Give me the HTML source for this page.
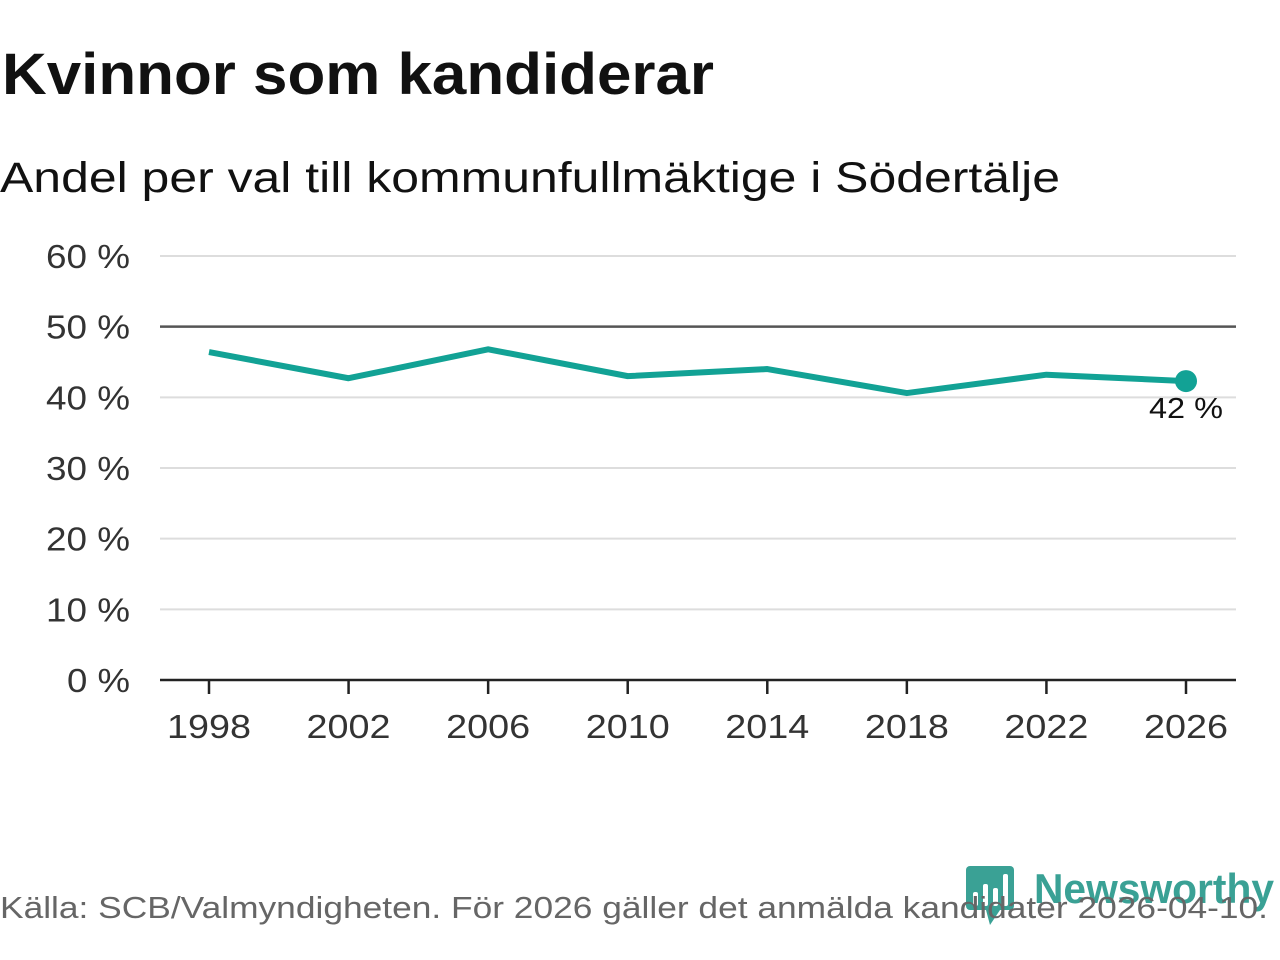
<!DOCTYPE html>
<html><head><meta charset="utf-8"><style>
body{margin:0;background:#fff;width:1280px;height:960px;overflow:hidden;font-family:"Liberation Sans","DejaVu Sans",sans-serif}
</style></head><body>
<svg width="1280" height="960" style="position:absolute;left:0;top:0">
<text x="2" y="94" font-size="58" font-weight="bold" fill="#111" textLength="712" lengthAdjust="spacingAndGlyphs">Kvinnor som kandiderar</text>
<text x="0" y="192" font-size="43" fill="#111" textLength="1060" lengthAdjust="spacingAndGlyphs">Andel per val till kommunfullmäktige i Södertälje</text>
<g id="grid"></g>
<g id="yt"></g>
<g id="xt"></g>
<g id="series"></g>
<g>
<rect x="966" y="866" width="48" height="44" rx="4" fill="#3aa195"/>
<polygon points="986,910 1000,910 990,925" fill="#3aa195"/>
<rect x="973" y="892" width="5" height="14" rx="2" fill="#fff"/>
<rect x="983" y="884" width="5" height="22" rx="2" fill="#fff"/>
<rect x="993" y="888" width="5" height="18" rx="2" fill="#fff"/>
<rect x="1003" y="874" width="5" height="32" rx="2" fill="#fff"/>
<text x="1034" y="903" font-size="42" font-weight="bold" fill="#3aa195" textLength="240" lengthAdjust="spacingAndGlyphs">Newsworthy</text>
</g>
<text x="0" y="918" font-size="31" fill="#666" textLength="1268" lengthAdjust="spacingAndGlyphs">Källa: SCB/Valmyndigheten. För 2026 gäller det anmälda kandidater 2026-04-10.</text>
</svg>
<script>
const years=[1998,2002,2006,2010,2014,2018,2022,2026];
const values=[46.4,42.7,46.8,43.0,44.0,40.6,43.2,42.3];
const yTicks=[0,10,20,30,40,50,60];
const ns="http://www.w3.org/2000/svg";
const X=y=>209+(y-1998)/28*977;
const Y=v=>680-v*7.067;
function mk(t,a,p){const e=document.createElementNS(ns,t);for(const k in a)e.setAttribute(k,a[k]);p.appendChild(e);return e;}
const grid=document.getElementById('grid'),yt=document.getElementById('yt'),xt=document.getElementById('xt'),s=document.getElementById('series');
yTicks.forEach(v=>{
 const c=v===50?'#555':(v===0?'#222':'#ddd');
 const l=mk('line',{x1:160,x2:1236,y1:Y(v),y2:Y(v),stroke:c,'stroke-width':v===0||v===50?2.5:2},grid);
 
 
 const t=mk('text',{x:130,y:Y(v)+12,'font-size':33,'text-anchor':'end',fill:'#333',textLength:v===0?63:84,lengthAdjust:'spacingAndGlyphs'},yt);
 t.textContent=v+' %';
 
 
});
years.forEach(y=>{
 const l=mk('line',{x1:X(y),x2:X(y),y1:680,y2:694,stroke:'#222','stroke-width':2.5},xt);
 
 
 const t=mk('text',{x:X(y),y:738,'font-size':33,'text-anchor':'middle',fill:'#333',textLength:84,lengthAdjust:'spacingAndGlyphs'},xt);
 t.textContent=y;
 
 
});
const p=mk('polyline',{points:years.map((y,i)=>X(y)+','+Y(values[i])).join(' '),fill:'none',stroke:'#12a295','stroke-width':6,'stroke-linejoin':'round'},s);


const n=years.length-1;
const d=mk('circle',{cx:X(years[n]),cy:Y(values[n]),r:11,fill:'#12a295'},s);


const lb=mk('text',{x:X(years[n]),y:Y(values[n])+37,'font-size':29,'text-anchor':'middle',fill:'#111',textLength:74,lengthAdjust:'spacingAndGlyphs'},s);
lb.textContent=Math.round(values[n])+' %';


</script>
</body></html>
